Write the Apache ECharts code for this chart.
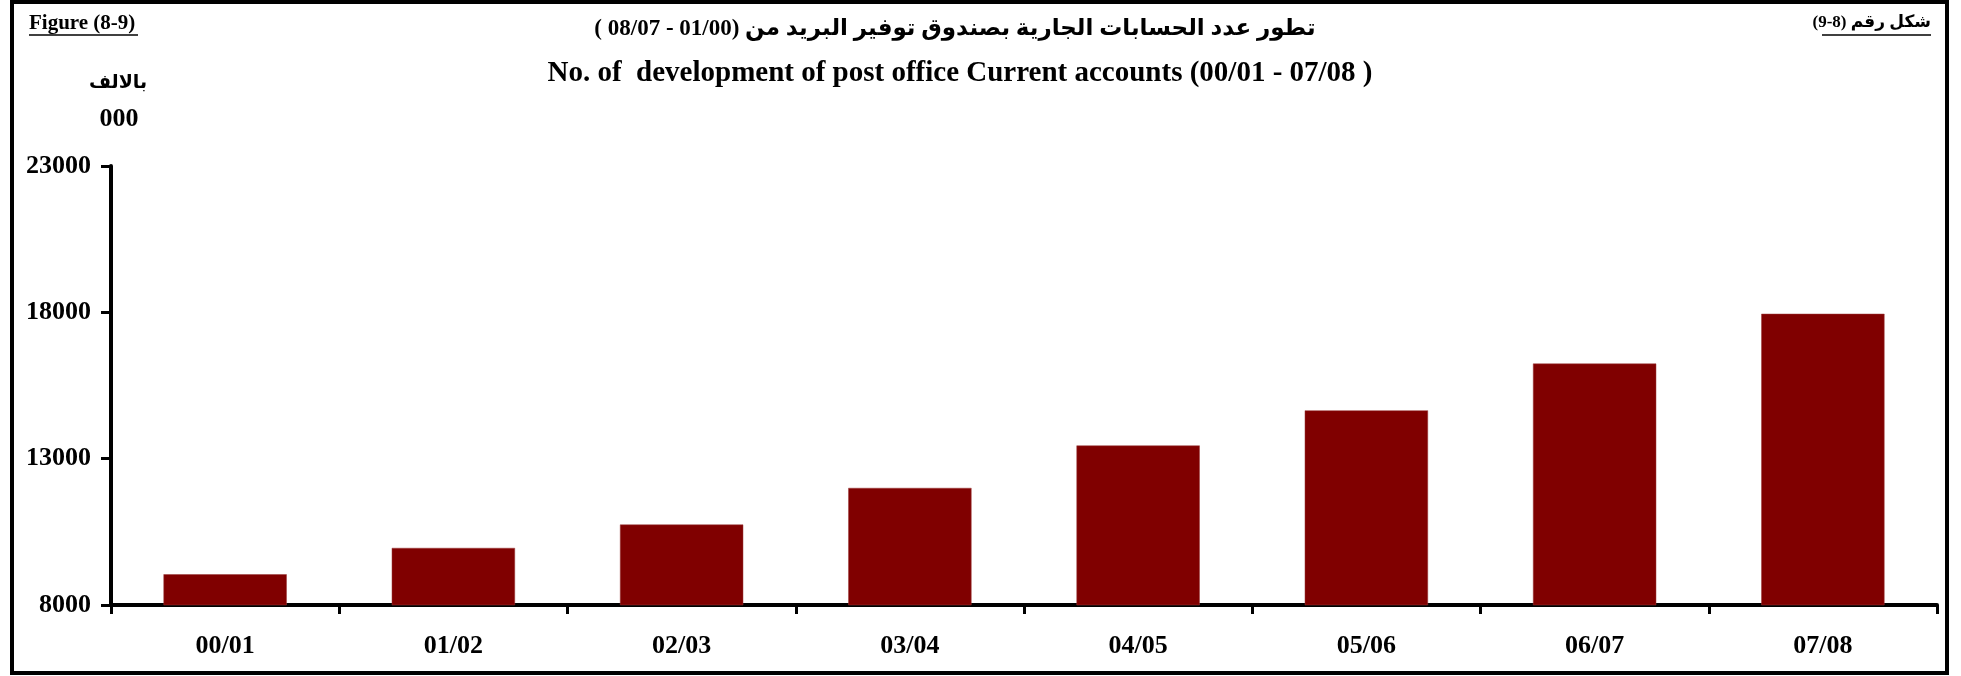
<!DOCTYPE html>
<html>
<head>
<meta charset="utf-8">
<script src="https://cdn.jsdelivr.net/npm/echarts@6/dist/echarts.min.js"></script>
<style>
  html, body { margin: 0; padding: 0; background: #fff; }
  #chart { width: 1961px; height: 676px; }
</style>
</head>
<body>
<div id="chart"></div>
<script>
// data (thousands of accounts)
var years = ['00/01', '01/02', '02/03', '03/04', '04/05', '05/06', '06/07', '07/08'];
var currentAccounts = [9050, 9950, 10750, 12000, 13450, 14650, 16250, 17950];
var yMin = 8000;
var yMax = 23000;
var yStep = 5000;

// RLE ... PDF so the Arabic strings lay out right-to-left on the canvas
var titleAr = '\u202Bتطور عدد الحسابات الجارية بصندوق توفير البريد من (01/00 - 08/07 )\u202C';
var titleEn = 'No. of  development of post office Current accounts (00/01 - 07/08 )';
var figEn = 'Figure (8-9)';
var figAr = '\u202Bشكل رقم (8-9)\u202C';
var unitAr = 'بالالف';
var unitEn = '000';

var serif = "'Liberation Serif', 'Times New Roman', 'DejaVu Sans', serif";

window.createChart = function(chartId) {
    var chart = echarts.init(document.getElementById(chartId));

    chart.setOption({
        backgroundColor: '#fff',
        animation: false,
        title: [
            {
                text: titleAr,
                left: 950, top: 13, textAlign: 'center',
                textStyle: { fontFamily: serif, fontWeight: 'bold', fontSize: 23, color: '#000' }
            },
            {
                text: titleEn,
                left: 955, top: 54, textAlign: 'center',
                textStyle: { fontFamily: serif, fontWeight: 'bold', fontSize: 29, color: '#000' }
            }
        ],
        graphic: [
            // outer frame
            { type: 'rect', shape: { x: 12, y: 2, width: 1935, height: 671 },
              style: { fill: 'none', stroke: '#000', lineWidth: 4 }, silent: true },
            { type: 'text', left: 29, top: 13,
              style: { text: figEn, font: 'bold 21px ' + serif, fill: '#000' } },
            { type: 'line', shape: { x1: 29, y1: 35, x2: 138, y2: 35 },
              style: { stroke: '#000', lineWidth: 1.5 } },
            { type: 'text', right: 30, top: 14,
              style: { text: figAr, font: 'bold 17px ' + serif, fill: '#000' } },
            { type: 'line', shape: { x1: 1822, y1: 35, x2: 1931, y2: 35 },
              style: { stroke: '#000', lineWidth: 1.5 } },
            { type: 'text', x: 118, y: 83,
              style: { text: unitAr, font: 'bold 19px ' + serif, fill: '#000', align: 'center', verticalAlign: 'middle' } },
            { type: 'text', x: 119, y: 119,
              style: { text: unitEn, font: 'bold 26px ' + serif, fill: '#000', align: 'center', verticalAlign: 'middle' } }
        ],
        grid: { left: 111, right: 24, top: 166, bottom: 71 },
        xAxis: {
            type: 'category',
            data: years,
            axisLine: { lineStyle: { color: '#000', width: 4 } },
            axisTick: { show: true, length: 9, lineStyle: { color: '#000', width: 3 } },
            axisLabel: {
                margin: 28, color: '#000',
                fontFamily: serif, fontWeight: 'bold', fontSize: 26
            }
        },
        yAxis: {
            type: 'value',
            min: yMin, max: yMax, interval: yStep,
            splitLine: { show: false },
            axisLine: { show: true, lineStyle: { color: '#000', width: 4 } },
            axisTick: { show: true, length: 10, lineStyle: { color: '#000', width: 3 } },
            axisLabel: {
                margin: 20, color: '#000',
                fontFamily: serif, fontWeight: 'bold', fontSize: 26,
                formatter: function(v) { return String(v); }
            }
        },
        series: [{
            type: 'bar',
            data: currentAccounts,
            barCategoryGap: '46%',
            itemStyle: { color: '#800000', borderColor: '#9a3a3a', borderWidth: 0.5 }
        }]
    });
    return chart;
};

createChart('chart');
</script>
</body>
</html>
